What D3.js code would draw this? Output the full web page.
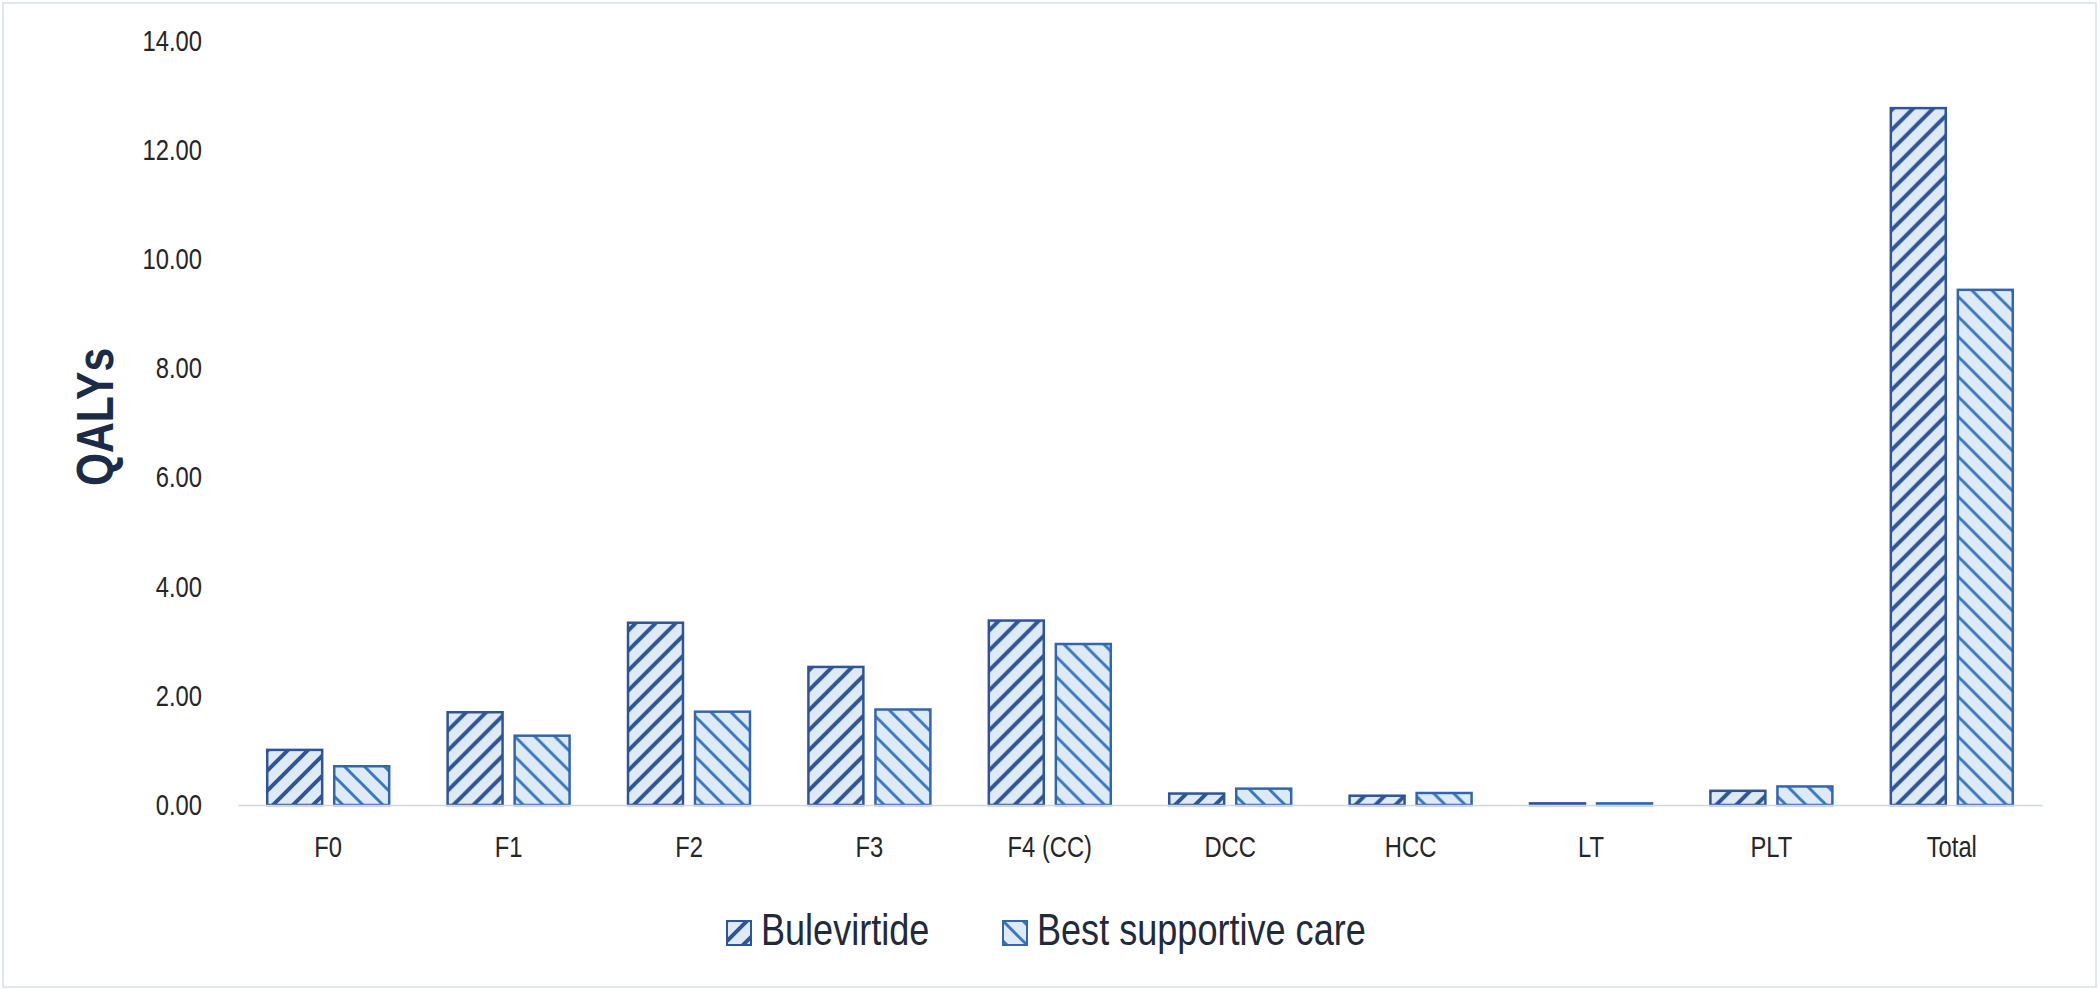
<!DOCTYPE html>
<html>
<head>
<meta charset="utf-8">
<script src="https://cdn.jsdelivr.net/npm/d3@7"></script>
<style>
  html, body { margin: 0; padding: 0; background: #ffffff; }
  #chart { width: 2100px; height: 990px; }
  text { font-family: "Liberation Sans", Arial, sans-serif; }
</style>
</head>
<body>
<div id="chart"></div>
<script>
// values
const categories = ["F0", "F1", "F2", "F3", "F4 (CC)", "DCC", "HCC", "LT", "PLT", "Total"];
const bulevirtide = [1.01, 1.70, 3.34, 2.53, 3.38, 0.21, 0.17, 0.03, 0.26, 12.77];
const bestSupportiveCare = [0.71, 1.27, 1.71, 1.75, 2.95, 0.30, 0.22, 0.03, 0.34, 9.44];
const seriesNames = ["Bulevirtide", "Best supportive care"];
const yTicks = [0, 2, 4, 6, 8, 10, 12, 14];

// no narrow face installed, so squeeze the normal one like Arial Narrow
const narrow = 0.82;

let svg = d3.select("#chart")
  .append("svg")
  .attr("width", 2100)
  .attr("height", 990);

// frame round the picture
svg.append("rect")
  .attr("x", 3).attr("y", 3)
  .attr("width", 2093).attr("height", 984)
  .attr("fill", "none")
  .attr("stroke", "#dfe7f1")
  .attr("stroke-width", 2);

let defs = svg.append("defs");

// hatch for Bulevirtide: "/" thick dark stripes
let p1 = defs.append("pattern")
  .attr("id", "hatch-bule")
  .attr("patternUnits", "userSpaceOnUse")
  .attr("width", 20).attr("height", 20);
p1.append("rect").attr("width", 20).attr("height", 20).attr("fill", "#deebf7");
p1.append("path")
  .attr("d", "M-5,5 l10,-10 M0,20 l20,-20 M15,25 l10,-10")
  .attr("stroke", "#2f5597")
  .attr("stroke-width", 4);

// hatch for best supportive care: "\" thinner lighter stripes
let p2 = defs.append("pattern")
  .attr("id", "hatch-bsc")
  .attr("patternUnits", "userSpaceOnUse")
  .attr("width", 20).attr("height", 20);
p2.append("rect").attr("width", 20).attr("height", 20).attr("fill", "#deebf7");
p2.append("path")
  .attr("d", "M-5,15 l10,10 M0,0 l20,20 M15,-5 l10,10")
  .attr("stroke", "#3a78c2")
  .attr("stroke-width", 3);

const fills = ["url(#hatch-bule)", "url(#hatch-bsc)"];
const strokes = ["#2f5597", "#3566ad"];

let x0 = d3.scaleBand()
  .domain(categories)
  .range([238, 2042]);

let x1 = d3.scaleBand()
  .domain(seriesNames)
  .range([0, x0.bandwidth()])
  .paddingInner(0.18)
  .paddingOuter(0.436);

let y = d3.scaleLinear()
  .domain([0, 14])
  .range([805, 41]);

// y axis labels
let yAxis = svg.append("g")
  .attr("transform", "translate(238,0)")
  .call(d3.axisLeft(y).tickValues(yTicks).tickFormat(d3.format(".2f")).tickSize(0).tickPadding(36));
yAxis.select(".domain").remove();
yAxis.selectAll("text")
  .attr("font-family", null)
  .attr("x", -36 / narrow)
  .attr("transform", "scale(" + narrow + ",1)")
  .style("font-size", "29px")
  .attr("fill", "#262626");

// bars
let rows = categories.map((c, i) => ({ cat: c, vals: [bulevirtide[i], bestSupportiveCare[i]] }));
let groups = svg.append("g").selectAll("g")
  .data(rows)
  .join("g")
  .attr("transform", d => "translate(" + x0(d.cat) + ",0)");
groups.selectAll("rect")
  .data(d => d.vals.map((v, j) => ({ s: seriesNames[j], v: v, j: j })))
  .join("rect")
  .attr("x", d => x1(d.s))
  .attr("y", d => y(d.v))
  .attr("width", x1.bandwidth())
  .attr("height", d => y(0) - y(d.v))
  .attr("fill", d => fills[d.j])
  .attr("stroke", d => strokes[d.j])
  .attr("stroke-width", 2.5);

// x axis
let xAxis = svg.append("g")
  .attr("transform", "translate(0,805)")
  .call(d3.axisBottom(x0).tickSize(0).tickSizeOuter(0).tickPadding(31));
xAxis.select(".domain")
  .attr("stroke", "#d0d7e0")
  .attr("stroke-width", 1.5);
xAxis.selectAll("text")
  .attr("font-family", null)
  .attr("transform", "scale(" + narrow + ",1)")
  .style("font-size", "29px")
  .attr("fill", "#262626");

// y title
svg.append("text")
  .attr("transform", "translate(113,417) rotate(-90) scale(" + narrow + ",1)")
  .attr("text-anchor", "middle")
  .style("font-size", "52px")
  .style("font-weight", "bold")
  .attr("fill", "#1c2b47")
  .text("QALYs");

// legend
const legendX = [727, 1003];
let legend = svg.append("g").selectAll("g")
  .data(seriesNames)
  .join("g")
  .attr("transform", (d, i) => "translate(" + legendX[i] + ",921)");
legend.append("rect")
  .attr("width", 24).attr("height", 24)
  .attr("fill", (d, i) => fills[i])
  .attr("stroke", (d, i) => strokes[i])
  .attr("stroke-width", 2);
legend.append("text")
  .attr("x", 34 / narrow)
  .attr("y", 24)
  .attr("transform", "scale(" + narrow + ",1)")
  .style("font-size", "44px")
  .attr("fill", "#1f2a3a")
  .text(d => d);
</script>
</body>
</html>
